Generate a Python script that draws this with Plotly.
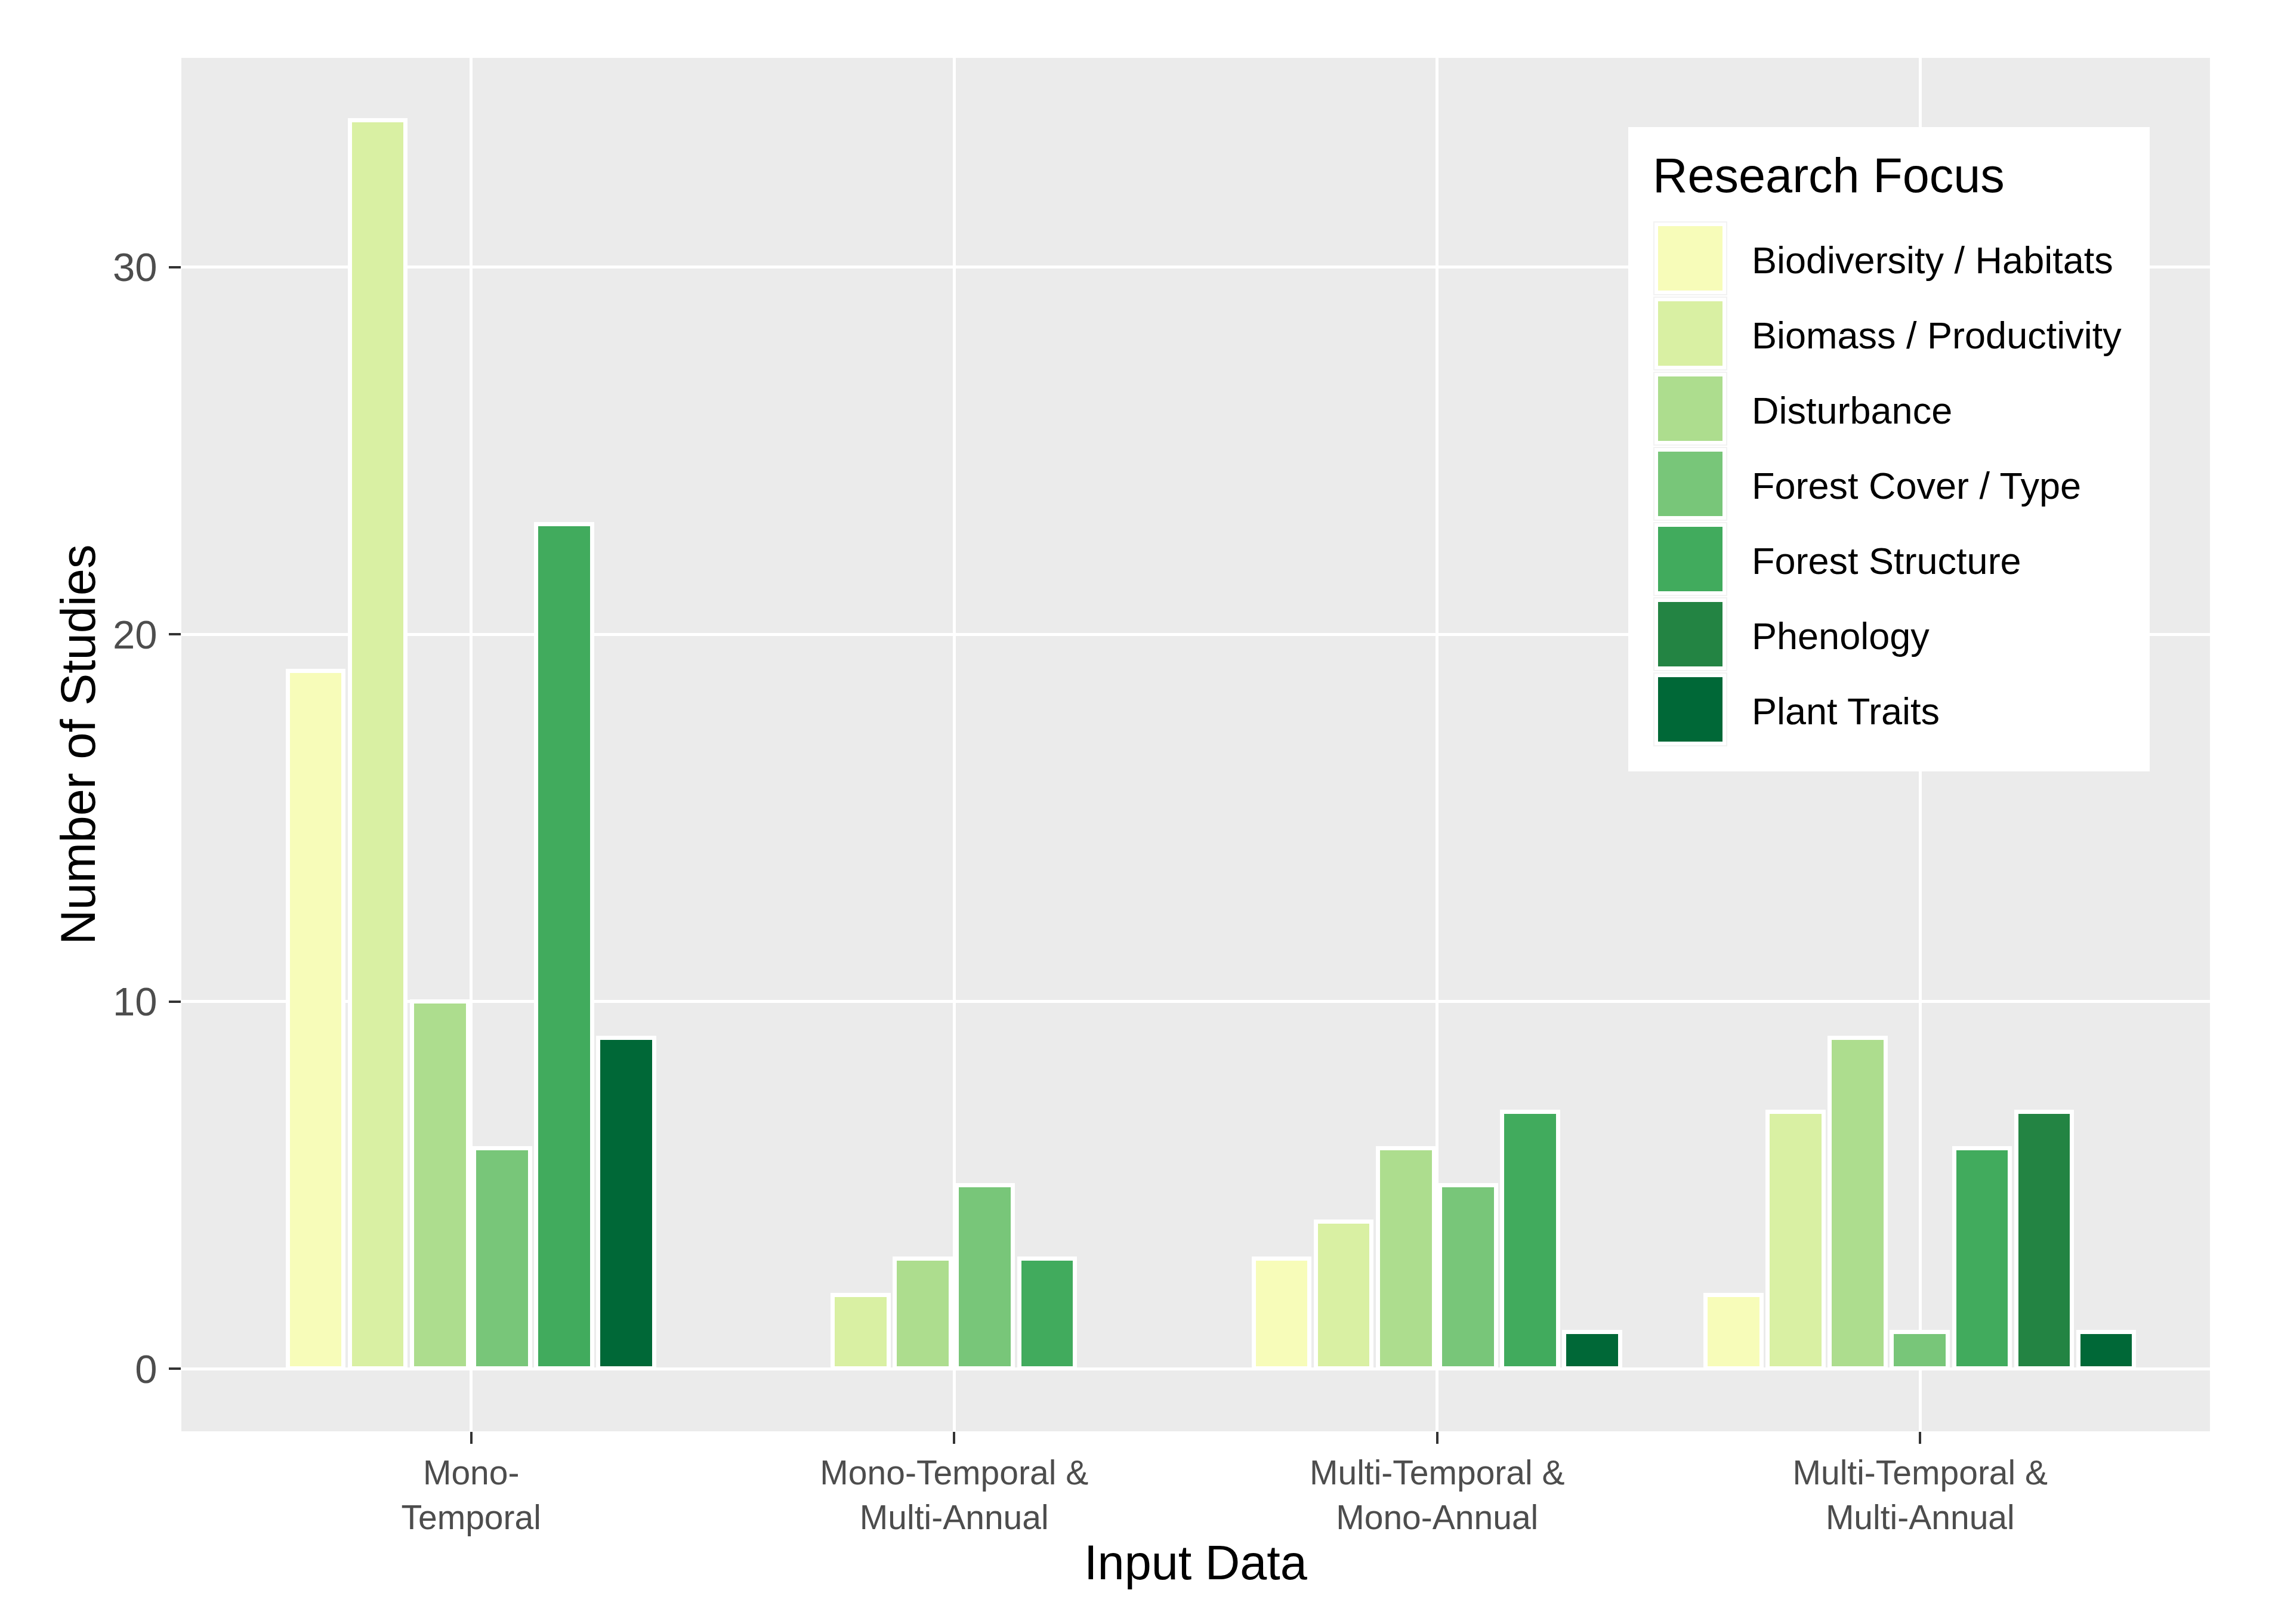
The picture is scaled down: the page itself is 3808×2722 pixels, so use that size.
import plotly.graph_objects as go

# ---------------- data ----------------
groups = ["Mono-<br>Temporal", "Mono-Temporal &<br>Multi-Annual",
          "Multi-Temporal &<br>Mono-Annual", "Multi-Temporal &<br>Multi-Annual"]
categories = ["Biodiversity / Habitats", "Biomass / Productivity", "Disturbance",
              "Forest Cover / Type", "Forest Structure", "Phenology", "Plant Traits"]
biodiversity = [19, None, 3, 2]
biomass = [34, 2, 4, 7]
disturbance = [10, 3, 6, 9]
forest_cover = [6, 5, 5, 1]
forest_structure = [23, 3, 7, 6]
phenology = [None, None, None, 7]
plant_traits = [9, None, 1, 1]
series = [biodiversity, biomass, disturbance, forest_cover, forest_structure, phenology, plant_traits]
colors = ["#f7fcb9", "#d9f0a3", "#addd8e", "#78c679", "#41ab5d", "#238443", "#006837"]
y_ticks = [0, 10, 20, 30]

# ---------------- layout constants (page pixels) ----------------
OFF = 8                      # default body margin of the html page
WIDTH, HEIGHT = 3808 - OFF, 2722 - OFF
L, R, T, B = 304, 3704, 97, 2399   # plot panel in page pixels
PW, PH = R - L, B - T
FONT = "Liberation Sans, Arial, sans-serif"

def px2x(px):
    return (px - L) / PW

def py2y(py):
    return (B - py) / PH

# dodge2(preserve="single") style positions
n_max = max(sum(1 for s in series if s[g] is not None) for g in range(len(groups)))
slot = 0.9 / n_max
bar_w = slot * 0.9

xs = {i: [] for i in range(len(categories))}
ys = {i: [] for i in range(len(categories))}
for g in range(len(groups)):
    present = [i for i, s in enumerate(series) if s[g] is not None]
    n = len(present)
    for k, i in enumerate(present):
        xs[i].append(g + 1 + (k - (n - 1) / 2) * slot)
        ys[i].append(series[i][g])

fig = go.Figure()
for i, cat in enumerate(categories):
    fig.add_trace(go.Bar(
        x=xs[i], y=ys[i], name=cat, width=[bar_w] * len(xs[i]),
        marker=dict(color=colors[i], line=dict(color="white", width=7)),
        showlegend=False,
    ))

ymax = max(v for s in series for v in s if v is not None)
pad = 0.05 * ymax

fig.update_layout(
    width=WIDTH, height=HEIGHT,
    margin=dict(l=L - OFF, r=WIDTH - (R - OFF), t=T - OFF, b=HEIGHT - (B - OFF), pad=0),
    paper_bgcolor="white", plot_bgcolor="#ebebeb",
    barmode="overlay", bargap=0,
    font=dict(family=FONT, color="black"),
    xaxis=dict(
        range=[0.4, len(groups) + 0.6], tickvals=list(range(1, len(groups) + 1)),
        ticktext=groups, showgrid=True, gridcolor="white", gridwidth=5,
        zeroline=False, ticks="outside", ticklen=20, tickwidth=4, tickcolor="#333333",
        tickfont=dict(family=FONT, size=57, color="#4d4d4d"),
        ticklabelstandoff=0,
        title=dict(text="Input Data", font=dict(family=FONT, size=81, color="black"), standoff=0),
    ),
    yaxis=dict(
        range=[-pad, ymax + pad], tickvals=y_ticks, ticktext=[str(v) for v in y_ticks],
        showgrid=True, gridcolor="white", gridwidth=5, zeroline=False,
        ticks="outside", ticklen=20, tickwidth=4, tickcolor="#333333",
        tickfont=dict(family=FONT, size=67, color="#4d4d4d"),
        ticklabelstandoff=6,
        title=dict(text="Number of Studies", font=dict(family=FONT, size=81, color="black"), standoff=2),
    ),
)

# ---------------- manual legend ----------------
shapes = []
annotations = []
box = dict(x0=2729, x1=3603, y0=213, y1=1293)
shapes.append(dict(type="rect", xref="paper", yref="paper",
                   x0=px2x(box["x0"]), x1=px2x(box["x1"]),
                   y0=py2y(box["y1"]), y1=py2y(box["y0"]),
                   fillcolor="white", line=dict(width=0), layer="above"))
annotations.append(dict(text="Research Focus", xref="paper", yref="paper",
                        x=px2x(2768), y=py2y(294), xanchor="left", yanchor="middle",
                        showarrow=False, font=dict(family=FONT, size=81, color="black")))
cell = 124
pitch = 126
cell_top0 = 371
for i, cat in enumerate(categories):
    top = cell_top0 + i * pitch
    shapes.append(dict(type="rect", xref="paper", yref="paper",
                       x0=px2x(2771), x1=px2x(2771 + cell), y0=py2y(top + cell), y1=py2y(top),
                       fillcolor="#f2f2f2", line=dict(width=0), layer="above"))
    shapes.append(dict(type="rect", xref="paper", yref="paper",
                       x0=px2x(2773), x1=px2x(2771 + cell - 2), y0=py2y(top + cell - 2), y1=py2y(top + 2),
                       fillcolor="white", line=dict(width=0), layer="above"))
    shapes.append(dict(type="rect", xref="paper", yref="paper",
                       x0=px2x(2779), x1=px2x(2771 + cell - 8), y0=py2y(top + cell - 8), y1=py2y(top + 8),
                       fillcolor=colors[i], line=dict(width=0), layer="above"))
    annotations.append(dict(text=cat, xref="paper", yref="paper",
                            x=px2x(2934), y=py2y(top + cell / 2 + 3), xanchor="left", yanchor="middle",
                            showarrow=False, font=dict(family=FONT, size=63, color="black")))

fig.update_layout(shapes=shapes, annotations=annotations)
fig.write_html("out.html")
